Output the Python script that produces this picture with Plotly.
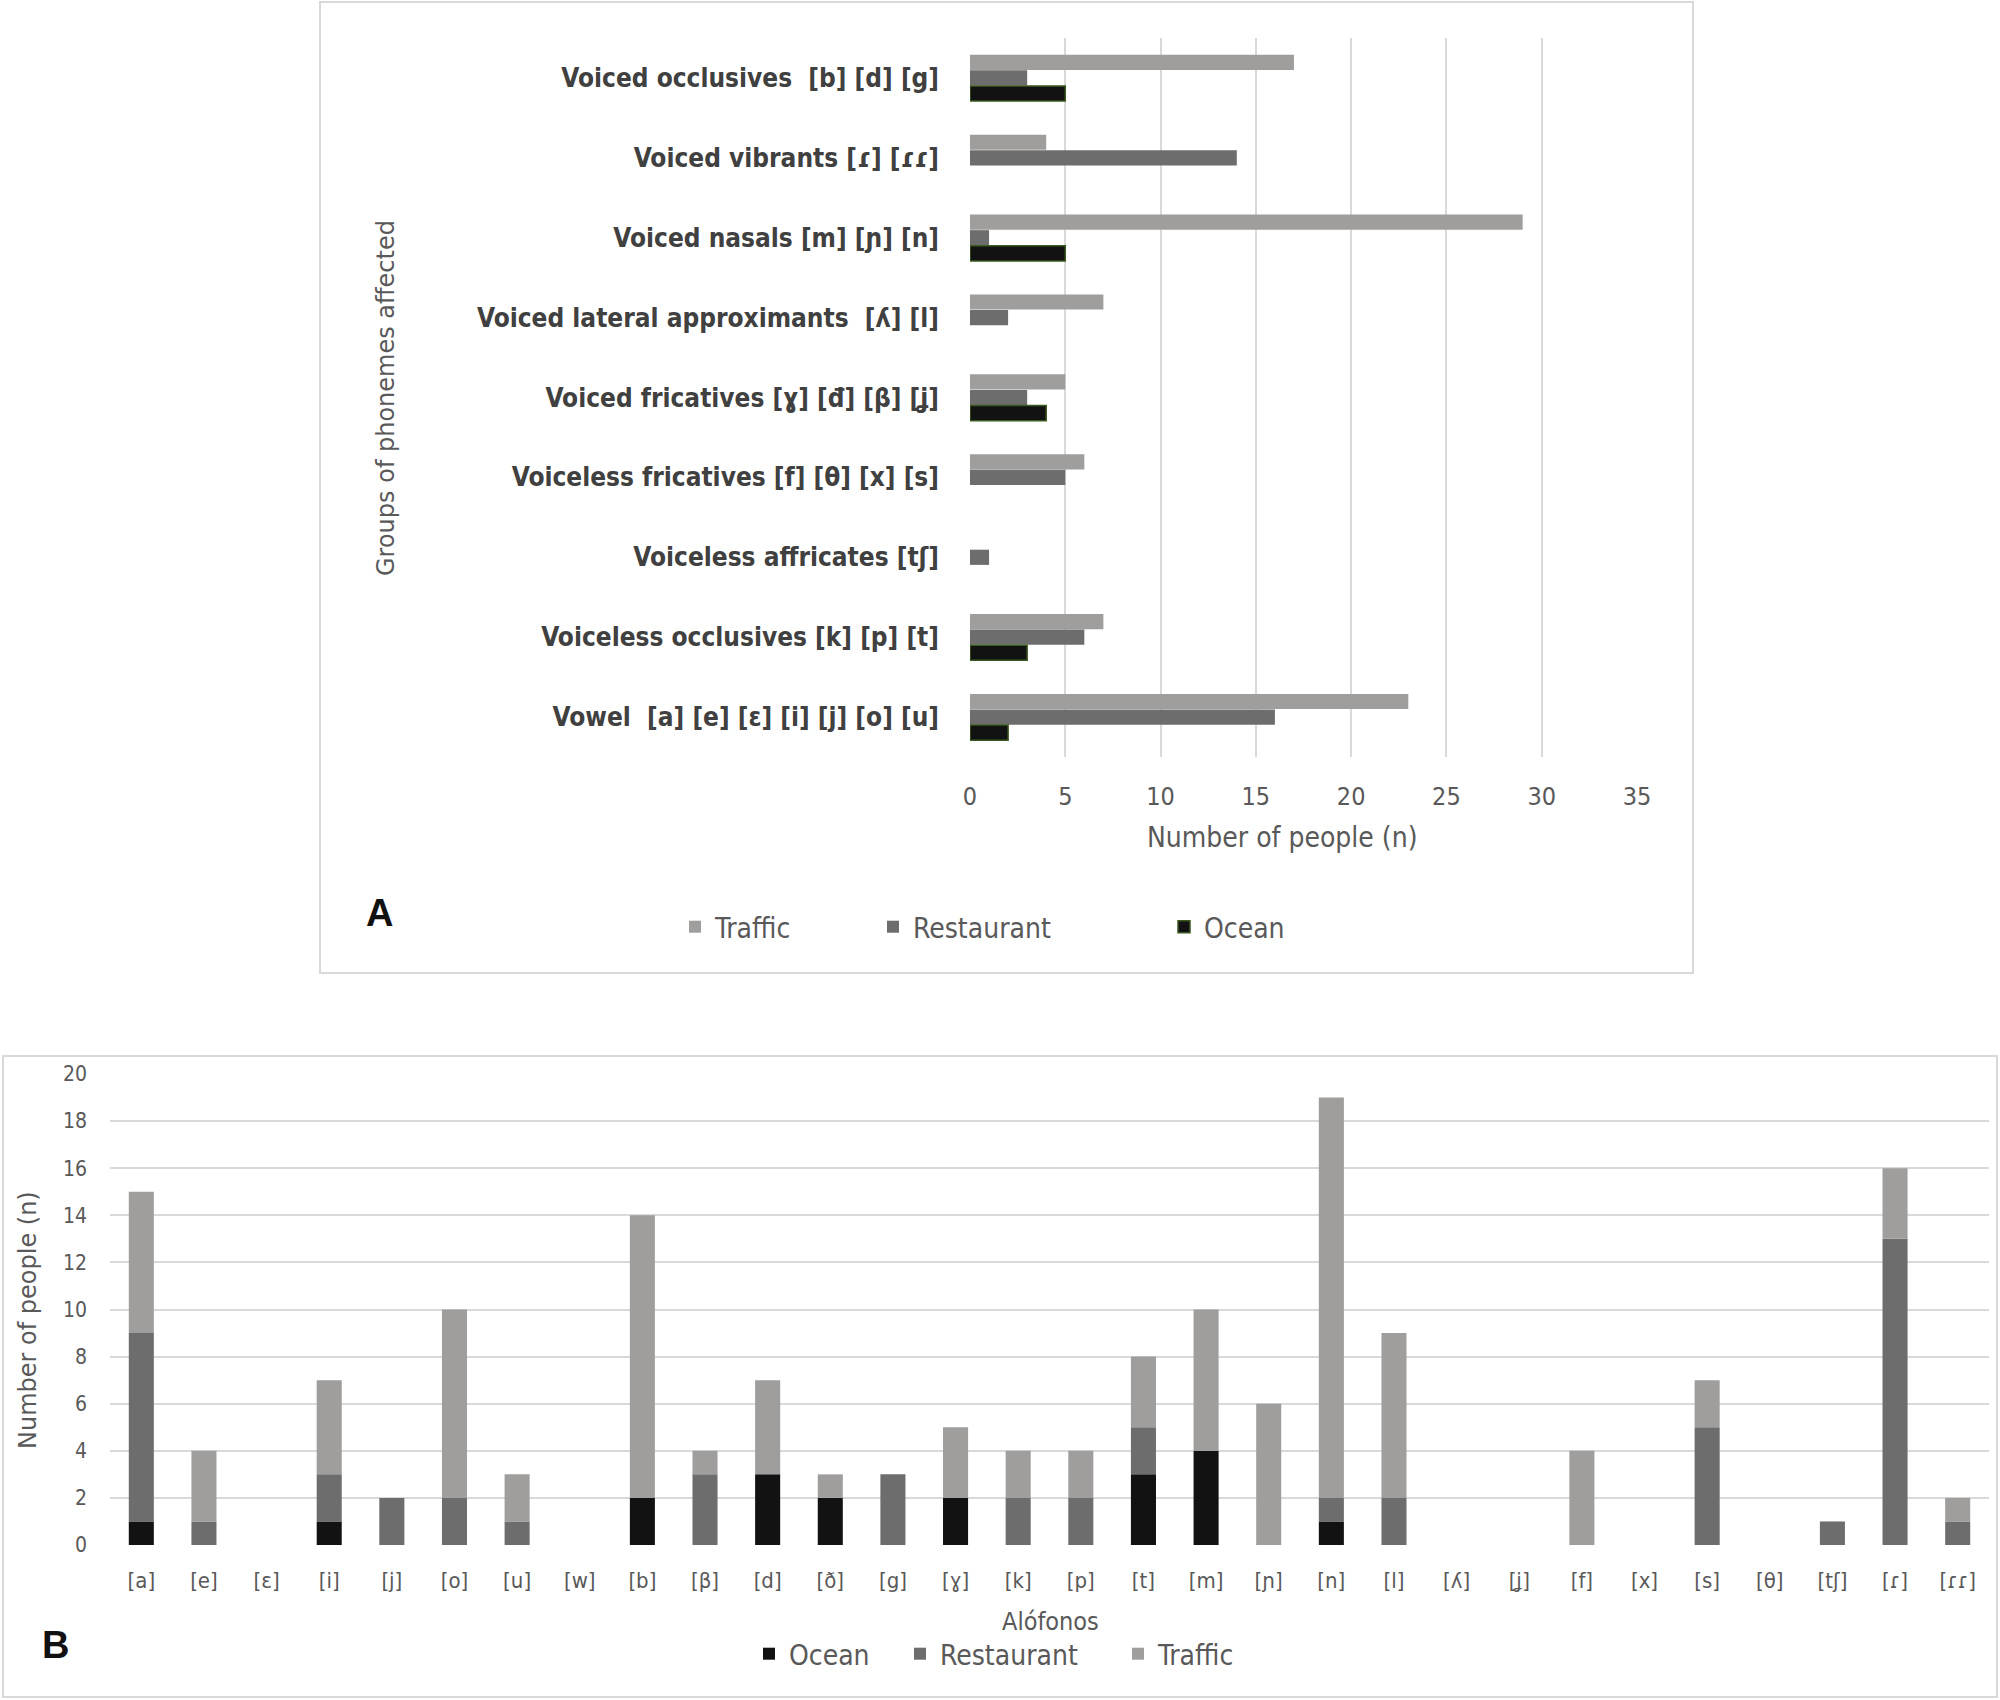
import numpy as np
import plotly.graph_objects as go

# ---------------- Panel A data ----------------
groups = [
    "Voiced occlusives\u00a0 [b] [d] [g]",
    "Voiced vibrants [ɾ] [ɾɾ]",
    "Voiced nasals [m] [ɲ] [n]",
    "Voiced lateral approximants\u00a0 [ʎ] [l]",
    "Voiced fricatives [ɣ] [đ] [β] [ʝ]",
    "Voiceless fricatives [f] [θ] [x] [s]",
    "Voiceless affricates [tʃ]",
    "Voiceless occlusives [k] [p] [t]",
    "Vowel\u00a0 [a] [e] [ɛ] [i] [j] [o] [u]",
]
traffic_a = [17, 4, 29, 7, 5, 6, 0, 7, 23]
restaurant_a = [3, 14, 1, 2, 3, 5, 1, 6, 16]
ocean_a = [5, 0, 5, 0, 4, 0, 0, 3, 2]
ticks_a = [0, 5, 10, 15, 20, 25, 30, 35]

# ---------------- Panel B data ----------------
allophones = ["[a]", "[e]", "[ɛ]", "[i]", "[j]", "[o]", "[u]", "[w]", "[b]", "[β]",
              "[d]", "[ð]", "[g]", "[ɣ]", "[k]", "[p]", "[t]", "[m]", "[ɲ]", "[n]",
              "[l]", "[ʎ]", "[ʝ]", "[f]", "[x]", "[s]", "[θ]", "[tʃ]", "[ɾ]", "[ɾɾ]"]
ocean_b = [1, 0, 0, 1, 0, 0, 0, 0, 2, 0, 3, 2, 0, 2, 0, 0, 3, 4, 0, 1, 0, 0, 0, 0, 0, 0, 0, 0, 0, 0]
restaurant_b = [8, 1, 0, 2, 2, 2, 1, 0, 0, 3, 0, 0, 3, 0, 2, 2, 2, 0, 0, 1, 2, 0, 0, 0, 0, 5, 0, 1, 13, 1]
traffic_b = [6, 3, 0, 4, 0, 8, 2, 0, 12, 1, 4, 1, 0, 3, 2, 2, 3, 6, 6, 17, 7, 0, 0, 4, 0, 2, 0, 0, 3, 1]

C_TRAFFIC = "#a09d9d"
C_REST = "#6d6d6d"
C_OCEAN = "#121212"
C_OCEAN_EDGE = "#3b5a1f"
GRID = "#d9d9d9"
TXT = "#595959"
NARROW = "Liberation Sans Narrow, Arial Narrow, DejaVu Sans Condensed, sans-serif"
WIDE = "DejaVu Sans, Verdana, sans-serif"

W, H = 2000, 1700


def px_x(x):
    return x / W


def px_y(y):
    return 1 - y / H


def nz(vals):
    return [v if v != 0 else None for v in vals]


fig = go.Figure()

# Panel A: grouped horizontal bars (overlay mode with offsets)
bw = 0.19
for name, vals, col, off, lg, edge in [
    ("Traffic", traffic_a, C_TRAFFIC, -0.29, "legend", None),
    ("Restaurant", restaurant_a, C_REST, -0.095, "legend2", None),
    ("Ocean", ocean_a, C_OCEAN, 0.10, "legend3", C_OCEAN_EDGE),
]:
    fig.add_trace(go.Bar(
        x=nz(vals), y=groups, orientation="h", name=name,
        marker=dict(color=col, line=dict(color=edge if edge else col, width=1.5 if edge else 0)),
        width=bw, offset=off, xaxis="x", yaxis="y", legend=lg, showlegend=True,
    ))

# Panel B: stacked vertical bars
ob = np.array(ocean_b)
rb = np.array(restaurant_b)
tb = np.array(traffic_b)
for name, vals, base, col, lg in [
    ("Ocean", ob, np.zeros_like(ob), C_OCEAN, "legend4"),
    ("Restaurant", rb, ob, C_REST, "legend5"),
    ("Traffic", tb, ob + rb, C_TRAFFIC, "legend6"),
]:
    fig.add_trace(go.Bar(
        x=allophones, y=vals.tolist(), base=base.tolist(), name=name,
        marker=dict(color=col, line=dict(width=0)),
        width=0.4, xaxis="x2", yaxis="y2", legend=lg, showlegend=True,
    ))

leg_common = dict(orientation="h", yanchor="middle", xanchor="left",
                  font=dict(family=NARROW, size=28, color=TXT),
                  bgcolor="rgba(0,0,0,0)", borderwidth=0, visible=True)

fig.update_layout(
    width=W, height=H, margin=dict(l=0, r=0, t=0, b=0, pad=0, autoexpand=False),
    paper_bgcolor="white", plot_bgcolor="white",
    barmode="overlay", showlegend=True,
    xaxis=dict(domain=[px_x(970), px_x(1637)], range=[0, 35], tickvals=ticks_a,
               showgrid=True, gridcolor=GRID, gridwidth=2, zeroline=False, showline=False,
               tickfont=dict(family=NARROW, size=25, color=TXT), ticklabelstandoff=22,
               anchor="y", automargin=False),
    yaxis=dict(domain=[px_y(757), px_y(38)], range=[8.5, -0.5], type="category",
               categoryorder="array", categoryarray=groups,
               showgrid=False, zeroline=False, showline=False,
               tickfont=dict(family=NARROW, size=26, color="#404040", weight="bold"),
               ticklabelstandoff=30, anchor="x", automargin=False),
    xaxis2=dict(domain=[px_x(110), px_x(1989)], range=[-0.5, 29.5], type="category",
                categoryorder="array", categoryarray=allophones,
                showgrid=False, zeroline=False, showline=False,
                tickfont=dict(family=NARROW, size=22, color=TXT), ticklabelstandoff=20,
                anchor="y2", automargin=False),
    yaxis2=dict(domain=[px_y(1545), px_y(1074)], range=[0, 20], dtick=2,
                showgrid=True, gridcolor=GRID, gridwidth=2, zeroline=False, showline=False,
                tickfont=dict(family=NARROW, size=21, color=TXT), ticklabelstandoff=22,
                anchor="x2", automargin=False),
    legend=dict(x=px_x(695 - 20), y=px_y(927), **leg_common),
    legend2=dict(x=px_x(893 - 20), y=px_y(927), **leg_common),
    legend3=dict(x=px_x(1184 - 20), y=px_y(927), **leg_common),
    legend4=dict(x=px_x(769 - 20), y=px_y(1654), **leg_common),
    legend5=dict(x=px_x(920 - 20), y=px_y(1654), **leg_common),
    legend6=dict(x=px_x(1138 - 20), y=px_y(1654), **leg_common),
)

annotations = [
    dict(text="Groups of phonemes affected", x=px_x(386), y=px_y(398), textangle=-90,
         font=dict(family=WIDE, size=24, color=TXT)),
    dict(text="Number of people (n)", x=px_x(1282), y=px_y(837),
         font=dict(family=NARROW, size=28, color=TXT)),
    dict(text="<b>A</b>", x=px_x(379), y=px_y(913),
         font=dict(family="Liberation Sans, Arial, sans-serif", size=38, color="#111111")),
    dict(text="Number of people (n)", x=px_x(28), y=px_y(1320), textangle=-90,
         font=dict(family=WIDE, size=24, color=TXT)),
    dict(text="Alófonos", x=px_x(1050), y=px_y(1621),
         font=dict(family=NARROW, size=25, color=TXT)),
    dict(text="<b>B</b>", x=px_x(55), y=px_y(1645),
         font=dict(family="Liberation Sans, Arial, sans-serif", size=38, color="#111111")),
]
for a in annotations:
    a.update(xref="paper", yref="paper", showarrow=False, xanchor="center", yanchor="middle")
fig.update_layout(annotations=annotations)

shapes = [
    dict(type="rect", xref="paper", yref="paper", x0=px_x(320), x1=px_x(1693),
         y0=px_y(973), y1=px_y(2), line=dict(color=GRID, width=2), fillcolor="rgba(0,0,0,0)"),
    dict(type="rect", xref="paper", yref="paper", x0=px_x(3), x1=px_x(1997),
         y0=px_y(1697), y1=px_y(1056), line=dict(color=GRID, width=2), fillcolor="rgba(0,0,0,0)"),
]
fig.update_layout(shapes=shapes)

fig.write_html("out.html", config={"displayModeBar": False},
               post_script="document.body.style.margin='0px';document.body.style.overflow='hidden';")
